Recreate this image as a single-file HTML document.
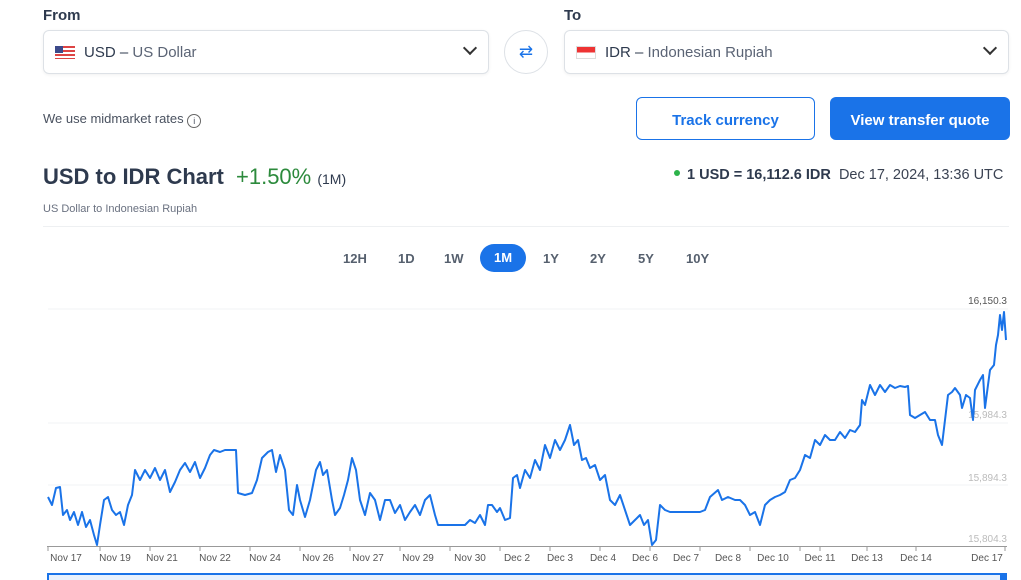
<!DOCTYPE html>
<html><head><meta charset="utf-8"><style>
body{margin:0;width:1021px;height:580px;background:#fff;font-family:"Liberation Sans",sans-serif;position:relative;overflow:hidden;color:#2e3a4e}
.a{position:absolute}
.sel{position:absolute;top:30px;height:44px;border:1px solid #dde1e6;border-radius:6px;box-sizing:border-box;box-shadow:0 1px 3px rgba(0,0,0,.06)}
.btn{position:absolute;top:97px;height:43px;padding-top:4px;border-radius:6px;box-sizing:border-box;font-weight:bold;font-size:15px;display:flex;align-items:center;justify-content:center}
.tab{position:absolute;top:251px;font-size:13px;color:#56606e;font-weight:bold}
</style></head><body>
<div class="a" style="left:43px;top:7px;font-size:15px;font-weight:bold;color:#2e3a4e">From</div>
<div class="a" style="left:564px;top:7px;font-size:15px;font-weight:bold;color:#2e3a4e">To</div>
<div class="sel" style="left:43px;width:446px">
 <div class="a" style="left:11px;top:15px;width:20px;height:13px;background:repeating-linear-gradient(#d44 0 2px,#fff 2px 4px)"><div style="width:8px;height:7px;background:#3c4a8a"></div></div>
 <div class="a" style="left:40px;top:13px;font-size:15px">USD – <span style="color:#5b6475">US Dollar</span></div>
 <div class="a" style="left:421px;top:12px;width:8px;height:8px;border-right:2px solid #333;border-bottom:2px solid #333;transform:rotate(45deg)"></div>
</div>
<div class="a" style="left:504px;top:30px;width:44px;height:44px;border:1px solid #dde1e6;border-radius:50%;box-sizing:border-box;color:#1a73e8;text-align:center;line-height:42px;font-size:17px">⇄</div>
<div class="sel" style="left:564px;width:445px">
 <div class="a" style="left:11px;top:15px;width:20px;height:13px;border:1px solid #ddd;box-sizing:border-box;background:linear-gradient(#e33 50%,#fff 50%)"></div>
 <div class="a" style="left:40px;top:13px;font-size:15px">IDR – <span style="color:#5b6475">Indonesian Rupiah</span></div>
 <div class="a" style="left:420px;top:12px;width:8px;height:8px;border-right:2px solid #333;border-bottom:2px solid #333;transform:rotate(45deg)"></div>
</div>
<div class="a" style="left:43px;top:111px;font-size:13px;color:#4a5260">We use midmarket rates <span style="display:inline-block;width:12px;height:12px;border:1px solid #666;border-radius:50%;font-size:9px;text-align:center;line-height:12px;vertical-align:-1px">i</span></div>
<div class="btn" style="left:636px;width:179px;border:1.5px solid #1a73e8;color:#1a73e8;background:#fff">Track currency</div>
<div class="btn" style="left:830px;width:180px;background:#1a73e8;color:#fff">View transfer quote</div>
<div class="a" style="left:43px;top:164px;font-size:22px;font-weight:bold;color:#2e3a4e">USD to IDR Chart <span style="color:#2c8a3c;font-weight:normal;margin-left:6px">+1.50%</span> <span style="font-size:14px;font-weight:normal">(1M)</span></div>
<div class="a" style="left:43px;top:203px;font-size:11px;color:#6a7180">US Dollar to Indonesian Rupiah</div>
<div class="a" style="left:674px;top:167px;font-size:14.5px;white-space:nowrap"><span style="display:inline-block;width:6px;height:6px;border-radius:50%;background:#2cb34a;vertical-align:3px;margin-right:7px"></span><b>1 USD = 16,112.6 IDR</b>&nbsp; <span style="color:#3a4252">Dec 17, 2024, 13:36 UTC</span></div>
<div class="a" style="left:43px;top:226px;width:966px;height:1px;background:#eef0f2"></div>
<div class="tab" style="left:343px">12H</div><div class="tab" style="left:398px">1D</div><div class="tab" style="left:444px">1W</div>
<div class="a" style="left:480px;top:244px;width:46px;height:28px;border-radius:14px;background:#1a73e8;color:#fff;font-weight:bold;font-size:13px;text-align:center;line-height:28px">1M</div>
<div class="tab" style="left:543px">1Y</div><div class="tab" style="left:590px">2Y</div><div class="tab" style="left:638px">5Y</div><div class="tab" style="left:686px">10Y</div>
<svg class="a" style="left:0;top:0" width="1021" height="580">
<g stroke="#f2f3f5"><line x1="48" x2="1008" y1="309" y2="309"/><line x1="48" x2="1008" y1="423" y2="423"/><line x1="48" x2="1008" y1="485" y2="485"/></g>
<line x1="47" x2="1007" y1="546.5" y2="546.5" stroke="#999"/>
<g stroke="#999"><line x1="48" x2="48" y1="546" y2="551"/><line x1="100" x2="100" y1="546" y2="551"/><line x1="150" x2="150" y1="546" y2="551"/><line x1="200" x2="200" y1="546" y2="551"/><line x1="250" x2="250" y1="546" y2="551"/><line x1="300" x2="300" y1="546" y2="551"/><line x1="350" x2="350" y1="546" y2="551"/><line x1="400" x2="400" y1="546" y2="551"/><line x1="450" x2="450" y1="546" y2="551"/><line x1="500" x2="500" y1="546" y2="551"/><line x1="550" x2="550" y1="546" y2="551"/><line x1="600" x2="600" y1="546" y2="551"/><line x1="650" x2="650" y1="546" y2="551"/><line x1="700" x2="700" y1="546" y2="551"/><line x1="750" x2="750" y1="546" y2="551"/><line x1="800" x2="800" y1="546" y2="551"/><line x1="820" x2="820" y1="546" y2="551"/><line x1="867" x2="867" y1="546" y2="551"/><line x1="916" x2="916" y1="546" y2="551"/><line x1="1005" x2="1005" y1="546" y2="551"/></g>
<g font-size="10" fill="#999" text-anchor="end" font-family="Liberation Sans"><text x="1007" y="304" fill="#555">16,150.3</text><text x="1007" y="418" fill="#bbb">15,984.3</text><text x="1007" y="481" fill="#bbb">15,894.3</text><text x="1007" y="542" fill="#bbb">15,804.3</text></g>
<polyline fill="none" stroke="#1a73e8" stroke-width="2" stroke-linejoin="round" points="48,497 52,505 56,488 60,487 63,515 67,510 70,520 74,512 78,525 82,512 86,527 90,520 94,535 97,545 100,525 104,500 108,497 112,510 116,515 120,512 124,525 128,505 132,495 135,470 140,480 145,470 150,478 155,468 160,480 165,470 170,492 175,482 180,470 185,463 190,472 195,462 200,478 205,468 210,455 214,450 220,452 225,450 230,450 236,450 238,493 245,495 252,493 257,480 262,458 268,452 272,450 276,472 280,455 285,470 289,510 293,515 297,485 300,500 305,517 310,500 316,470 320,462 323,475 327,470 332,500 335,515 340,508 344,495 348,480 352,458 356,470 360,500 365,515 370,493 375,500 380,520 385,500 390,500 395,513 400,505 405,520 410,512 415,505 420,515 425,500 430,495 435,515 438,525 445,525 455,525 465,525 470,520 475,523 480,515 485,525 488,505 492,505 497,512 500,508 505,520 510,518 513,478 517,475 520,488 525,470 530,478 535,460 540,470 545,445 550,458 555,440 560,450 565,440 570,425 574,445 578,440 582,460 586,458 590,468 595,465 600,480 605,475 610,500 615,505 620,495 625,510 630,525 635,520 640,515 644,525 648,520 652,545 656,540 660,505 665,510 670,512 680,512 690,512 700,512 705,510 710,497 718,490 722,500 728,497 735,500 740,500 745,505 750,515 755,512 760,525 765,505 770,500 775,497 780,495 785,492 790,480 795,478 800,470 805,455 810,458 815,440 820,445 825,435 830,440 835,440 840,432 845,438 850,430 855,432 860,425 862,400 865,405 870,385 875,395 880,385 885,392 890,385 895,388 900,386 905,387 908,386 910,415 915,418 920,415 925,412 930,420 935,420 938,435 942,445 945,420 948,395 952,392 955,388 960,395 962,408 966,395 970,398 973,420 975,390 980,380 983,375 985,408 988,385 990,370 994,365 996,345 998,335 1000,315 1002,330 1004,312 1006,340"/>
<g font-size="10" fill="#555" text-anchor="middle" font-family="Liberation Sans">
<text x="66" y="561">Nov 17</text><text x="115" y="561">Nov 19</text><text x="162" y="561">Nov 21</text><text x="215" y="561">Nov 22</text><text x="265" y="561">Nov 24</text><text x="318" y="561">Nov 26</text><text x="368" y="561">Nov 27</text><text x="418" y="561">Nov 29</text><text x="470" y="561">Nov 30</text><text x="517" y="561">Dec 2</text><text x="560" y="561">Dec 3</text><text x="603" y="561">Dec 4</text><text x="645" y="561">Dec 6</text><text x="686" y="561">Dec 7</text><text x="728" y="561">Dec 8</text><text x="773" y="561">Dec 10</text><text x="820" y="561">Dec 11</text><text x="867" y="561">Dec 13</text><text x="916" y="561">Dec 14</text><text x="987" y="561">Dec 17</text></g>
<rect x="48" y="574" width="958" height="8" fill="#e8f1fd" stroke="#1a73e8" stroke-width="2"/>
<rect x="1000" y="574" width="7" height="8" fill="#1a73e8"/>
</svg>
</body></html>
